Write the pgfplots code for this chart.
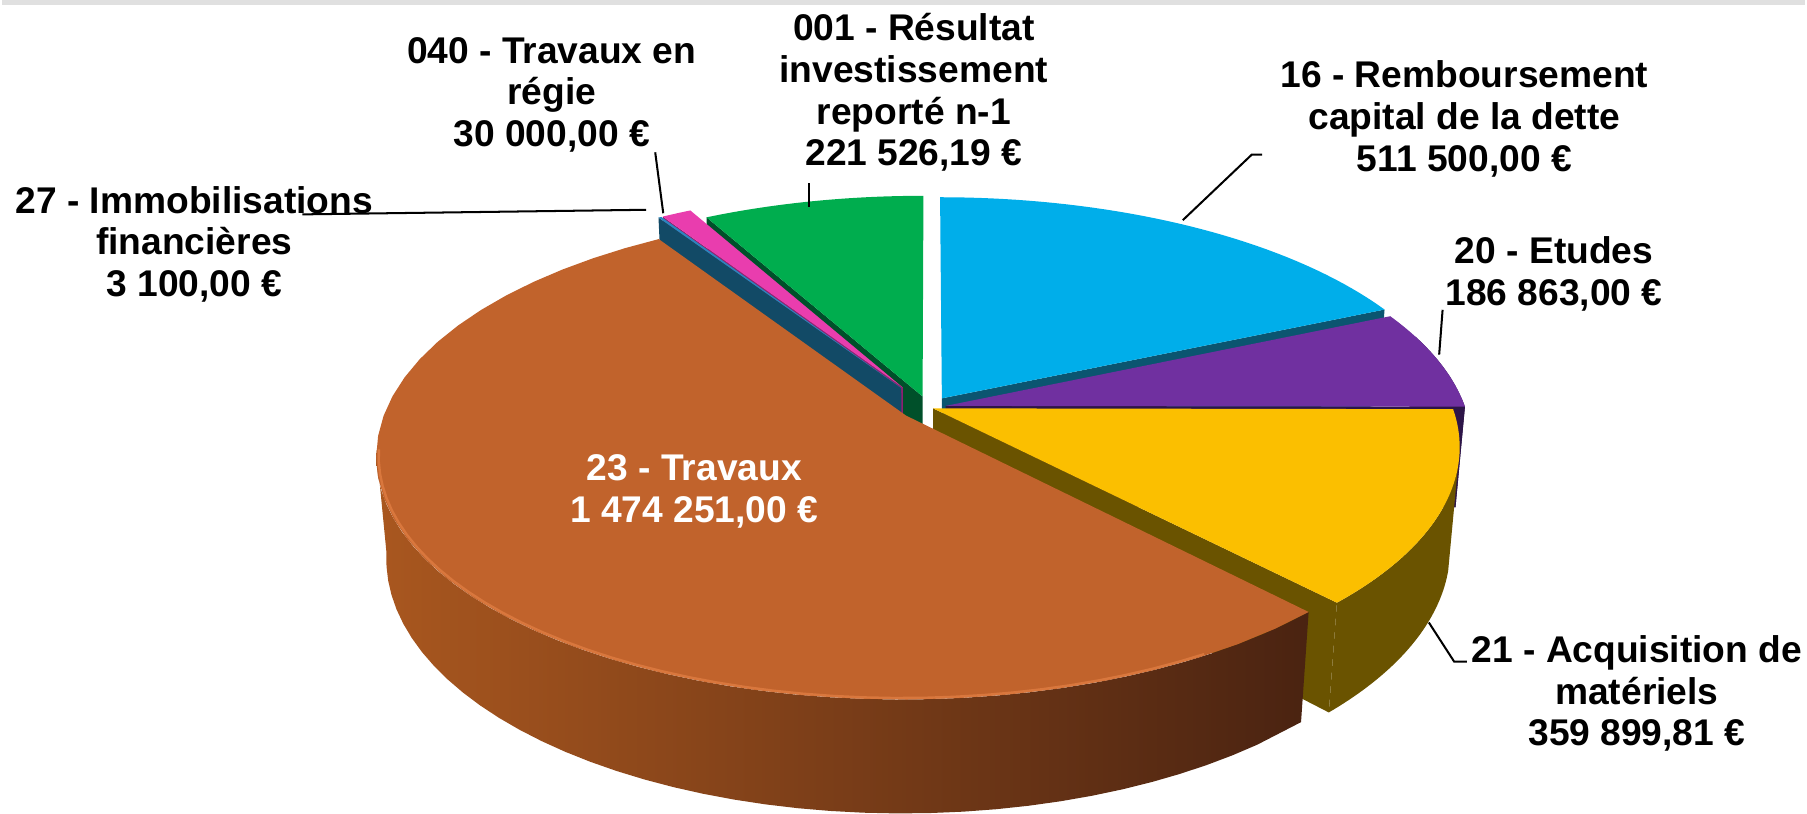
\documentclass[border=0pt]{standalone}
\usepackage{fontspec}
\setmainfont{Liberation Sans}
\usepackage{pgfplots}
\pgfplotsset{compat=1.18}

\definecolor{cGreen}{HTML}{00AD4E}
\definecolor{cGreenD}{HTML}{00502A}
\definecolor{cPink}{HTML}{E93DAE}
\definecolor{cPinkD}{HTML}{8E2070}
\definecolor{cTeal}{HTML}{2A86BF}
\definecolor{cTealD}{HTML}{124A66}
\definecolor{cBlue}{HTML}{00AEEA}
\definecolor{cBlueD}{HTML}{0B5570}
\definecolor{cPurple}{HTML}{7030A0}
\definecolor{cPurpleD}{HTML}{2D1548}
\definecolor{cYellow}{HTML}{FBBF00}
\definecolor{cYellowD}{HTML}{6A5300}
\definecolor{cOrange}{HTML}{C1632C}
\definecolor{cOrangeHi}{HTML}{D9773D}
\definecolor{cOrangeL}{HTML}{A9571F}
\definecolor{cOrangeR}{HTML}{4A2311}

% ---- data (EUR) ----
\def\vRemb{511500.00}   % 16 - Remboursement capital de la dette
\def\vEtud{186863.00}   % 20 - Etudes
\def\vAcq{359899.81}    % 21 - Acquisition de materiels
\def\vTrav{1474251.00}  % 23 - Travaux
\def\vImmo{3100.00}     % 27 - Immobilisations financieres
\def\vRegie{30000.00}   % 040 - Travaux en regie
\def\vRes{221526.19}    % 001 - Resultat investissement reporte n-1
\edef\tot{\fpeval{\vRemb+\vEtud+\vAcq+\vTrav+\vImmo+\vRegie+\vRes}}
\edef\aA{\fpeval{round(360*\vRemb/\tot,4)}}
\edef\aB{\fpeval{round(\aA+360*\vEtud/\tot,4)}}
\edef\aC{\fpeval{round(\aB+360*\vAcq/\tot,4)}}
\edef\aD{\fpeval{round(\aC+360*\vTrav/\tot,4)}}
\edef\aE{\fpeval{round(\aD+360*\vImmo/\tot,4)}}
\edef\aF{\fpeval{round(\aE+360*\vRegie/\tot,4)}}

% ---- projection of the 3D pie ----
\def\pPx{806}\def\pPy{352}\def\pR{452}\def\pCa{0.891}\def\pSa{0.454}\def\pD{2528}\def\pH{100}
\def\SX#1#2#3{(\pPx+(#1)*\pD/(\pD+(#2)*\pCa-(#3)*\pSa))}
\def\SY#1#2#3{(\pPy+((#2)*\pSa+(#3)*\pCa)*\pD/(\pD+(#2)*\pCa-(#3)*\pSa))}

\newcommand\setoff[3]{%
  \edef\oX{\fpeval{round((#3)*sind(((#1)+(#2))/2),3)}}%
  \edef\oY{\fpeval{round((#3)*cosd(((#1)+(#2))/2),3)}}}

\newcommand\topface[3]{%
  \begingroup\let\x\relax
  \def\ANG{((#1)+((#2)-(#1))*min(max(\x,0),1))}%
  \def\RR{((((\x<0)||(\x>1)))?0:\pR)}%
  \xdef\sliceCmd{\noexpand\addplot[fill=#3,draw=none,samples at={-1,0,0.025,...,0.975,1,2}]
    ({\SX{\RR*sin(\ANG)+\oX}{\RR*cos(\ANG)+\oY}{0}},{\SY{\RR*sin(\ANG)+\oX}{\RR*cos(\ANG)+\oY}{0}});}%
  \endgroup\sliceCmd}

\newcommand\rim[3]{%
  \begingroup\let\x\relax
  \def\ANG{((#1)+((#2)-(#1))*\x)}%
  \xdef\sliceCmd{\noexpand\addplot[#3,samples at={0,0.025,...,0.975,1}]
    ({\SX{(\pR-2)*sin(\ANG)+\oX}{(\pR-2)*cos(\ANG)+\oY}{0}},{\SY{(\pR-2)*sin(\ANG)+\oX}{(\pR-2)*cos(\ANG)+\oY}{0}});}%
  \endgroup\sliceCmd}

\newcommand\wall[3]{%
  \begingroup\let\x\relax
  \def\ANG{((\x<1.00005)?((#1)+((#2)-(#1))*\x):((#2)-((#2)-(#1))*(\x-1)))}%
  \def\ZZ{((\x<1.00005)?0:(-\pH))}%
  \xdef\sliceCmd{\noexpand\addplot[#3,draw=none,samples at={0,0.025,...,0.975,1,1.0001,1.025,1.05,...,1.975,2}]
    ({\SX{\pR*sin(\ANG)+\oX}{\pR*cos(\ANG)+\oY}{\ZZ}},{\SY{\pR*sin(\ANG)+\oX}{\pR*cos(\ANG)+\oY}{\ZZ}});}%
  \endgroup\sliceCmd}

\newcommand\face[2]{%
  \begingroup\let\x\relax
  \def\RR{((((\x>0.5)&&(\x<2.5)))?\pR:0)}%
  \def\ZZ{((\x>1.5)?(-\pH):0)}%
  \xdef\sliceCmd{\noexpand\addplot[fill=#2,draw=none,samples at={0,1,2,3}]
    ({\SX{\RR*sin(#1)+\oX}{\RR*cos(#1)+\oY}{\ZZ}},{\SY{\RR*sin(#1)+\oX}{\RR*cos(#1)+\oY}{\ZZ}});}%
  \endgroup\sliceCmd}

\begin{document}
\begin{tikzpicture}[lab/.style={align=center, inner sep=0pt, font=\fontsize{9.2}{10.3}\selectfont\bfseries}]
\begin{axis}[scale only axis, width=15.68cm, height=7.06cm,
  xmin=0, xmax=1568, ymin=0, ymax=706, hide axis, clip=false]
\addplot[black!12, line width=0.4mm] coordinates {(0,704.5) (1568,704.5)};
% 001
\setoff{\aF}{360}{22}
\face{\aF}{cGreenD}
\topface{\aF}{360}{cGreen}
% 040
\setoff{\aE}{\aF}{45}
\face{\aE}{cPinkD}
\topface{\aE}{\aF}{cPink}
% 27
\setoff{\aD}{\aE}{45}
\face{\aD}{cTealD}
\topface{\aD}{\aE}{cTeal}
% 16
\setoff{0}{\aA}{21}
\face{\aA}{cBlueD}
\topface{0}{\aA}{cBlue}
% 20
\setoff{\aA}{\aB}{15}
\face{\aB}{cPurpleD}
\wall{72}{\aB}{fill=cPurpleD}
\topface{\aA}{\aB}{cPurple}
% 21
\setoff{\aB}{\aC}{4}
\face{\aC}{cYellowD}
\wall{104}{\aC}{fill=cYellowD}
\topface{\aB}{\aC}{cYellow}
% 23
\setoff{\aC}{\aD}{25}
\wall{\aC}{262}{left color=cOrangeL,right color=cOrangeR}
\topface{\aC}{\aD}{cOrange}
\rim{150}{262}{cOrangeHi, line width=0.6pt}

% leader lines
\addplot[black, line width=0.5pt] coordinates {(702,547) (702,526)};
\addplot[black, line width=0.5pt] coordinates {(568,574) (575,521)};
\addplot[black, line width=0.5pt] coordinates {(261,520) (560,524)};
\addplot[black, line width=0.5pt] coordinates {(1096,572) (1087,572) (1027,515)};
\addplot[black, line width=0.5pt] coordinates {(1253,437) (1250,398)};
\addplot[black, line width=0.5pt] coordinates {(1241,165) (1263,131) (1274,131)};

% labels
\node[lab] at (axis cs:793,626) {001 - Résultat\\investissement\\reporté n-1\\221 526,19 €};
\node[lab] at (axis cs:478,624) {040 - Travaux en\\régie\\30 000,00 €};
\node[lab] at (axis cs:167,494) {27 - Immobilisations\\financières\\3 100,00 €};
\node[lab] at (axis cs:1272,603) {16 - Remboursement\\capital de la dette\\511 500,00 €};
\node[lab] at (axis cs:1350,468) {20 - Etudes\\186 863,00 €};
\node[lab] at (axis cs:1422,103) {21 - Acquisition de\\matériels\\359 899,81 €};
\node[lab, text=white] at (axis cs:602,279) {23 - Travaux\\1 474 251,00 €};
\end{axis}
\end{tikzpicture}
\end{document}
